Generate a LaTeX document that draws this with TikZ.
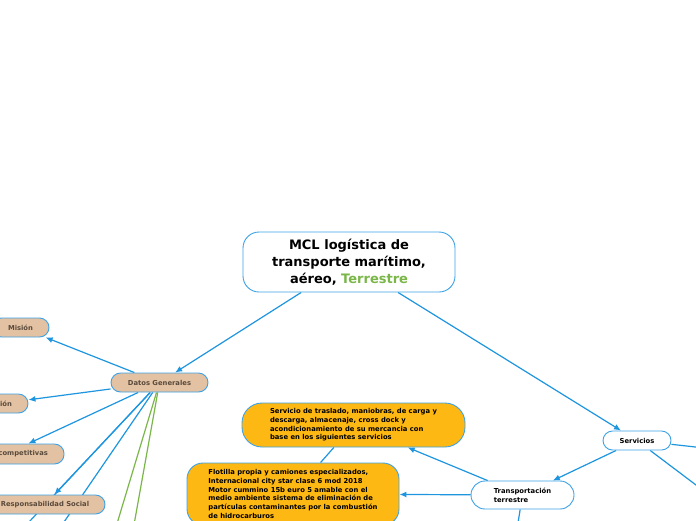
\documentclass[tikz,border=0pt]{standalone}
\usepackage{fontspec}
\setmainfont{DejaVu Sans}
\usepackage{xcolor}
\usepackage{tikz}
\usetikzlibrary{arrows.meta,positioning,backgrounds}
\definecolor{mapBlue}{HTML}{1E95DF}
\definecolor{mapEdge}{HTML}{3DA2E6}
\definecolor{topicTan}{HTML}{E3C2A3}
\definecolor{tanText}{HTML}{5A4A3C}
\definecolor{topicOrange}{HTML}{FDB813}
\definecolor{leafGreen}{HTML}{7AB648}

\begin{document}
\begin{tikzpicture}[x=1pt,y=-1pt,
    small/.style={font=\bfseries\fontsize{6.8}{8.7}\selectfont},
    topic/.style={small,draw=mapEdge,line width=0.9pt,fill=topicTan,text=tanText,rounded corners=9.5pt,minimum height=19pt,inner sep=2pt},
    plain/.style={small,draw=mapEdge,line width=0.9pt,fill=white,rounded corners=9.5pt,inner sep=2pt},
    idea/.style={small,draw=mapEdge,line width=0.9pt,fill=topicOrange,align=left,inner sep=2pt},
    link/.style={draw=mapBlue,line width=1.2pt,-{Latex[length=7pt,width=6pt]}},
    tie/.style={draw=mapBlue,line width=1.2pt},
    leaf/.style={draw=leafGreen,line width=1.2pt}]
    \useasboundingbox (0,0) rectangle (696,520);
    \clip (0,0) rectangle (696,520);

    \node[draw=mapEdge,line width=0.9pt,fill=white,rounded corners=16pt,minimum width=212pt,minimum height=60pt,align=center,
      font=\bfseries\fontsize{13}{17}\selectfont] (root) at (349,262)
      {MCL logística de\\transporte marítimo,\\aéreo, \textcolor{leafGreen}{Terrestre}};

    \node[topic,minimum width=97pt] (datos) at (159.5,382.5) {Datos Generales};
    \node[topic,minimum width=57pt] (mision) at (20.5,327.5) {Misión};
    \node[topic,minimum width=55pt,text width=23pt,align=right] (vision) at (0.5,403.5) {ión};
    \node[topic,minimum width=116pt,minimum height=20pt,text width=84pt,align=right] (ventajas) at (6,454) {competitivas};
    \node[topic,minimum width=120pt] (social) at (45,504.5) {Responsabilidad Social};

    \node[plain,minimum width=68pt,minimum height=19pt] (servicios) at (637,440.5) {Servicios};
    \node[plain,align=left,minimum width=103pt,minimum height=28pt,rounded corners=14pt] (transporte) at (522.5,495)
      {Transportación\\terrestre};

    \node[idea,minimum width=223pt,minimum height=44pt,rounded corners=20pt] (traslado) at (353.5,425)
      {Servicio de traslado, maniobras, de carga y\\descarga, almacenaje, cross dock y\\acondicionamiento de su mercancia con\\base en los siguientes servicios};
    \node[idea,minimum width=212pt,minimum height=62pt,rounded corners=16pt] (flotilla) at (293,494)
      {Flotilla propia y camiones especializados,\\Internacional city star clase 6 mod 2018\\Motor cummino 15b euro 5 amable con el\\medio ambiente sistema de eliminación de\\partículas contaminantes por la combustión\\de hidrocarburos};

    \coordinate (outA) at (29,522);
    \coordinate (outB) at (64,522);
    \coordinate (outC) at (117.5,522);
    \coordinate (outD) at (134.5,522);
    \coordinate (outE) at (700,447.5);
    \coordinate (outF) at (700,488);
    \coordinate (outG) at (517.5,526);

    \begin{scope}[on background layer]
      \fill[white] (0,0) rectangle (696,520);
      \draw[link] (root) -- (datos);
      \draw[link] (root) -- (servicios);
      \draw[link] (datos) -- (mision);
      \draw[link] (datos) -- (vision);
      \draw[link] (datos) -- (ventajas);
      \draw[link] (datos) -- (social);
      \draw[tie] (datos) -- (outA);
      \draw[tie] (datos) -- (outB);
      \draw[leaf] (datos) -- (outC);
      \draw[leaf] (datos) -- (outD);
      \draw[link] (servicios) -- (transporte);
      \draw[tie] (servicios) -- (outE);
      \draw[tie] (servicios) -- (outF);
      \draw[link] (transporte) -- (traslado);
      \draw[link] (transporte) -- (flotilla);
      \draw[tie] (transporte) -- (outG);
      \draw[tie] (flotilla) -- (traslado);
    \end{scope}
\end{tikzpicture}
\end{document}
